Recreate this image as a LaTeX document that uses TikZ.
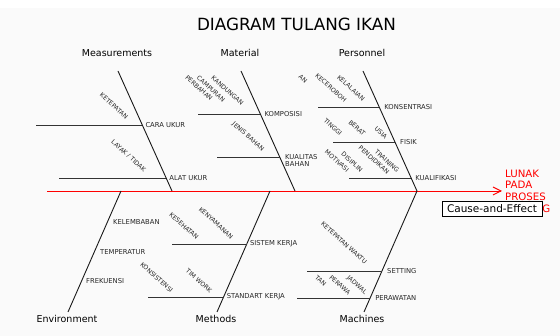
\documentclass[tikz,border=0pt]{standalone}
\usepackage{fontspec}
\setmainfont{DejaVu Sans}
\usetikzlibrary{arrows.meta,calc}
\begin{document}
\begin{tikzpicture}[x=1pt,y=-1pt,
  bone/.style={line width=0.9pt, black!90},
  rib/.style={line width=0.9pt, black!80},
  cat/.style={font=\fontsize{9.5}{11}\selectfont, inner sep=0},
  lbl/.style={font=\fontsize{6.8}{8}\selectfont, inner sep=0, anchor=west, text=black!85},
  rl/.style={font=\fontsize{6.2}{7}\selectfont, inner sep=0, rotate=-42, text=black!85},
]
\useasboundingbox (0,0) rectangle (560,336);
\fill[black!2] (0,8) rectangle (560,336);

% title
\node[font=\fontsize{16.8}{18}\selectfont, inner sep=0] (title) at (296.5,24) {DIAGRAM TULANG IKAN};

% spine
\coordinate (tail) at (47,191);
\coordinate (head) at (502,191);
\draw[red, line width=0.9pt, -{Straight Barb[length=8pt,width=8pt]}] (tail) -- (head);

% effect
\node[font=\fontsize{10.2}{11.8}\selectfont, text=red, align=left, anchor=north west, inner sep=0] (effect) at (505,169.5) {LUNAK\\PADA\\PROSES\\GORENG};
\node[draw, fill=white, line width=0.6pt, font=\fontsize{10.5}{12}\selectfont, minimum width=100pt, minimum height=14.5pt, inner sep=0] (cae) at (492,209) {Cause-and-Effect};

% category labels
\node[cat] (Lmeas) at (117,53) {Measurements};
\node[cat] (Lmat) at (240,53) {Material};
\node[cat] (Lpers) at (362,53) {Personnel};
\node[cat] (Lenv) at (67,319) {Environment};
\node[cat] (Lmeth) at (216,319) {Methods};
\node[cat] (Lmach) at (362,319) {Machines};

% bones
\coordinate (mT) at (118,71);  \coordinate (mB) at (172,191);
\coordinate (aT) at (241,71);  \coordinate (aB) at (295,191);
\coordinate (pT) at (363,71);  \coordinate (pB) at (417,191);
\coordinate (eT) at (121,191); \coordinate (eB) at (68,312);
\coordinate (tT) at (270,191); \coordinate (tB) at (217,312);
\coordinate (cT) at (417,191); \coordinate (cB) at (364,312);
\draw[bone] (mT) -- (mB);
\draw[bone] (aT) -- (aB);
\draw[bone] (pT) -- (pB);
\draw[bone] (eT) -- (eB);
\draw[bone] (tT) -- (tB);
\draw[bone] (cT) -- (cB);

% ribs: Measurements
\coordinate (j1) at (142.3,125); \coordinate (s1) at (36,125);
\coordinate (j2) at (166.2,178); \coordinate (s2) at (59,178);
% Material
\coordinate (j3) at (260.4,114); \coordinate (s3) at (198,114);
\coordinate (j4) at (279.7,157); \coordinate (s4) at (217,157);
% Personnel
\coordinate (j5) at (379.2,107); \coordinate (s5) at (318,107);
\coordinate (j6) at (395,142);   \coordinate (s6) at (333,142);
\coordinate (j7) at (411.2,178); \coordinate (s7) at (349,178);
% Methods
\coordinate (j8) at (246.8,244); \coordinate (s8) at (172,244);
\coordinate (j9) at (223.6,297); \coordinate (s9) at (148,297);
% Machines
\coordinate (j10) at (382,271);   \coordinate (s10) at (307,271);
\coordinate (j11) at (370.1,298); \coordinate (s11) at (297,298);

\foreach \i in {1,...,11} { \draw[rib] (s\i) -- (j\i); }

\node[lbl] (caraukur) at ([xshift=3pt]j1) {CARA UKUR};
\node[lbl] (alatukur) at ([xshift=3pt]j2) {ALAT UKUR};
\node[lbl] (komposisi) at ([xshift=4pt]j3) {KOMPOSISI};
\node[lbl, align=left, font=\fontsize{6.8}{7.6}\selectfont, anchor=north west] (kualitas) at (285,154) {KUALITAS\\BAHAN};
\node[lbl] (konsentrasi) at ([xshift=5pt]j5) {KONSENTRASI};
\node[lbl] (fisik) at ([xshift=5pt]j6) {FISIK};
\node[lbl] (kualifikasi) at ([xshift=4pt]j7) {KUALIFIKASI};
\node[lbl] (sistem) at ([xshift=3pt]j8) {SISTEM KERJA};
\node[lbl] (standart) at ([xshift=3pt]j9) {STANDART KERJA};
\node[lbl] (setting) at ([xshift=5pt]j10) {SETTING};
\node[lbl] (perawatan) at ([xshift=5pt]j11) {PERAWATAN};

% Environment labels
\node[lbl] (kelembaban) at (113,222) {KELEMBABAN};
\node[lbl] (temperatur) at (100,252) {TEMPERATUR};
\node[lbl] (frekuensi) at (86,281) {FREKUENSI};

% rotated labels
\node[rl] (ketepatan) at (114,106) {KETEPATAN};
\node[rl] (layak) at (128.5,156) {LAYAK / TIDAK};
\node[rl] (kandungan) at (227.5,90.5) {KANDUNGAN};
\node[rl] (campuran) at (211,89) {CAMPURAN};
\node[rl] (perbahan) at (199,88) {PERBAHAN};
\node[rl] (jenis) at (248,137) {JENIS BAHAN};
\node[rl] (an) at (303,79) {AN};
\node[rl] (kecerobohan) at (331,88) {KECEROBOH};
\node[rl] (kelalaian) at (351,88) {KELALAIAN};
\node[rl] (tinggi) at (333,127) {TINGGI};
\node[rl] (berat) at (357,128) {BERAT};
\node[rl] (usia) at (381,133) {USIA};
\node[rl] (disiplin) at (352,162) {DISIPLIN};
\node[rl] (motivasi) at (337,161) {MOTIVASI};
\node[rl] (training) at (387,161) {TRAINING};
\node[rl] (pendidikan) at (374,160) {PENDIDIKAN};
\node[rl] (kesehatan) at (184,226) {KESEHATAN};
\node[rl] (kenyamanan) at (216,223) {KENYAMANAN};
\node[rl] (konsistensi) at (156.7,277.5) {KONSISTENSI};
\node[rl] (timwork) at (199,281) {TIM WORK};
\node[rl] (ketwaktu) at (344,243) {KETEPATAN WAKTU};
\node[rl] (jadwal) at (356.7,285) {JADWAL};
\node[rl] (perawa) at (340,285) {PERAWA};
\node[rl] (tan) at (320.7,281) {TAN};
\end{tikzpicture}
\end{document}
